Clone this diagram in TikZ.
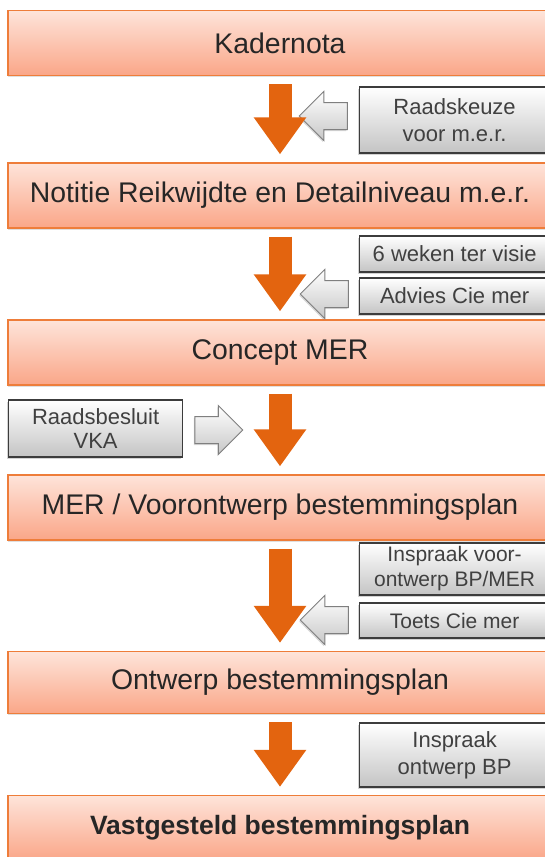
\documentclass[tikz,border=0pt]{standalone}
\usepackage{fontspec}
\setmainfont{Liberation Sans}
\usetikzlibrary{positioning,arrows.meta,shapes.arrows,shadows}

\definecolor{oranjerand}{HTML}{EE7D3A}
\definecolor{oranjeboven}{HTML}{FEE4DA}
\definecolor{oranjeonder}{HTML}{FAA688}
\definecolor{oranjepijl}{HTML}{E3640F}
\definecolor{grijsrand}{HTML}{3C3C3C}
\definecolor{grijsonder}{HTML}{C4C4C4}
\definecolor{pijlrand}{HTML}{7F7F7F}

\tikzset{
  fase/.style={draw=oranjerand, line width=1.2pt, top color=oranjeboven, bottom color=oranjeonder,
    minimum width=544pt, minimum height=65pt, text=black!85, font=\fontsize{28.4}{32}\selectfont,
    drop shadow={shadow xshift=0pt, shadow yshift=-1.5pt, opacity=0.25}},
  stap/.style={draw=grijsrand, line width=1.2pt, top color=white, bottom color=grijsonder,
    minimum width=190pt, align=center, anchor=west, text=black!75, font=\fontsize{22}{27}\selectfont,
    drop shadow={shadow xshift=-1.5pt, shadow yshift=-2pt, opacity=0.35}},
  doorloop/.style={draw=oranjepijl, line width=23pt, -{Triangle[width=50pt,length=37pt]},
    shorten <=8pt, shorten >=8pt},
  invoer/.style={single arrow, draw=pijlrand, line width=1pt, top color=white, bottom color=black!22,
    minimum height=48pt, inner sep=13pt, single arrow head extend=11pt,
    drop shadow={shadow xshift=-1pt, shadow yshift=-1.5pt, opacity=0.3}}
}

\begin{document}
\begin{tikzpicture}[x=1pt, y=-1pt]
  \useasboundingbox (0,0) rectangle (545,857);

  % fasen
  \node[fase] (kader) at (280,43) {Kadernota};
  \node[fase] (notitie) at (280,195.5) {Notitie Reikwijdte en Detailniveau m.e.r.};
  \node[fase] (concept) at (280,352.5) {Concept MER};
  \node[fase] (voorontwerp) at (280,507.5) {MER / Voorontwerp bestemmingsplan};
  \node[fase, minimum height=62pt] (ontwerp) at (280,682.5) {Ontwerp bestemmingsplan};
  \node[fase, font=\fontsize{26.5}{30}\selectfont\bfseries] (vast) at (280,828) {Vastgesteld bestemmingsplan};

  % tussenstappen
  \node[stap, minimum height=66pt] (keuze) at (359,120) {Raadskeuze\\voor m.e.r.};
  \node[stap, minimum height=36pt] (visie) at (359,254) {6 weken ter visie};
  \node[stap, minimum height=36pt] (advies) at (359,296) {Advies Cie mer};
  \node[stap, minimum height=57pt, minimum width=174pt, font=\fontsize{22}{24}\selectfont] (vka) at (8,428.5) {Raadsbesluit\\VKA};
  \node[stap, minimum height=52pt, font=\fontsize{21}{25}\selectfont] (inspraak) at (359,569) {Inspraak voor-\\ontwerp BP/MER};
  \node[stap, minimum height=35pt, font=\fontsize{21}{25}\selectfont] (toets) at (359,620.5) {Toets Cie mer};
  \node[stap, minimum height=64pt] (inspraakbp) at (359,755) {Inspraak\\ontwerp BP};

  % invoerpijlen
  \node[invoer, shape border rotate=180] (in1) at (330,116) {};
  \node[invoer, shape border rotate=180] (in2) at (331,294) {};
  \node[invoer] (in3) at (212,430) {};
  \node[invoer, shape border rotate=180] (in4) at (331,620) {};

  % doorloop
  \draw[doorloop] (kader) -- (notitie);
  \draw[doorloop] (notitie) -- (concept);
  \draw[doorloop] (concept) -- (voorontwerp);
  \draw[doorloop] (voorontwerp) -- (ontwerp);
  \draw[doorloop] (ontwerp) -- (vast);
\end{tikzpicture}
\end{document}
